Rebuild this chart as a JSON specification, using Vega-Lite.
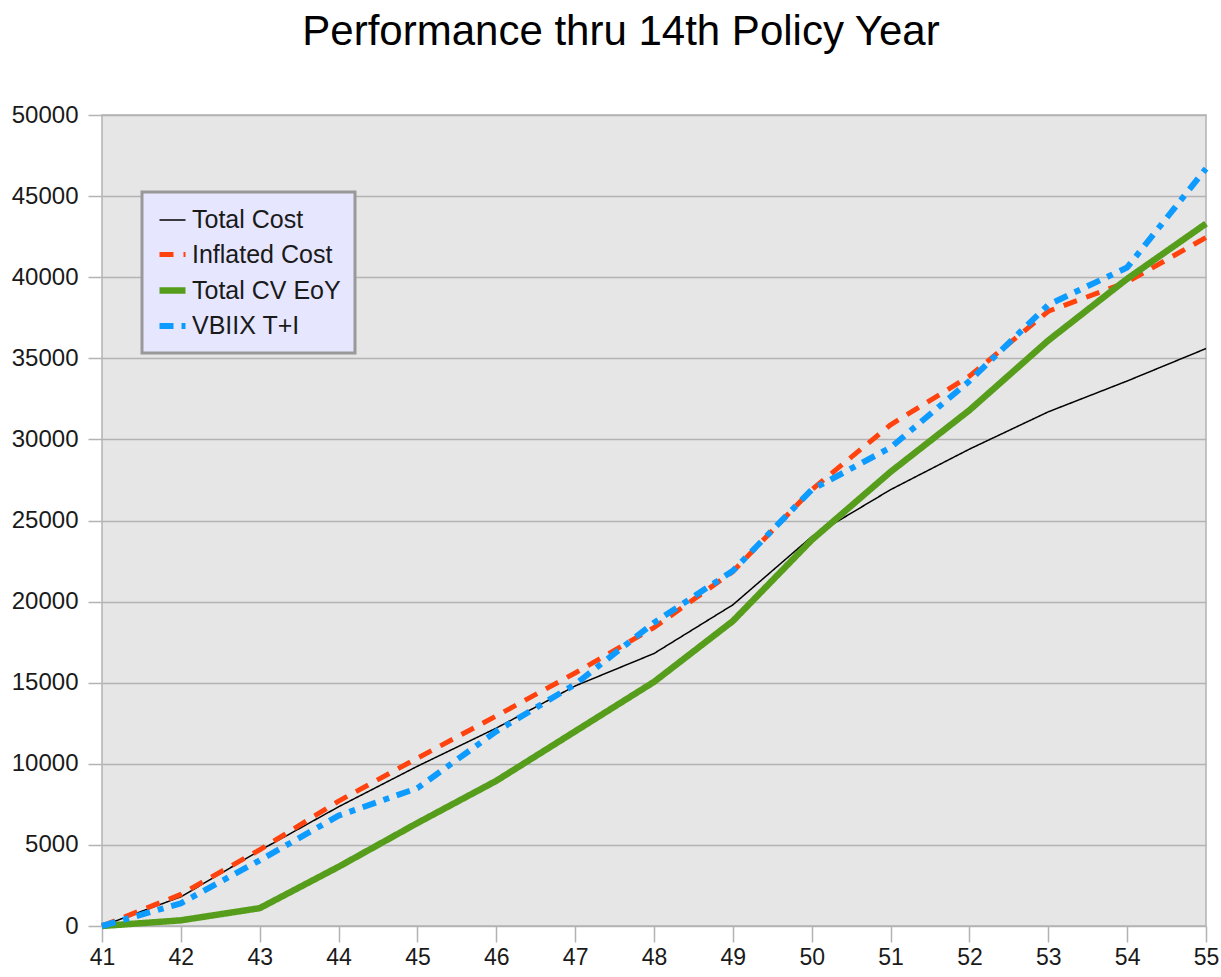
{
  "$schema": "https://vega.github.io/schema/vega-lite/v6.json",
  "autosize": {"type": "none"},
  "width": 1104,
  "height": 811,
  "padding": {"left": 102, "top": 115, "right": 15, "bottom": 51},
  "background": "#ffffff",
  "title": {
    "text": "Performance thru 14th Policy Year",
    "font": "Liberation Sans",
    "fontSize": 42,
    "fontWeight": "normal",
    "color": "#000000",
    "anchor": "middle",
    "dx": -33,
    "offset": 49
  },
  "data": {
    "values": [
      {"age": 41, "series": "Total Cost", "value": 0},
      {"age": 42, "series": "Total Cost", "value": 1800},
      {"age": 43, "series": "Total Cost", "value": 4650},
      {"age": 44, "series": "Total Cost", "value": 7350},
      {"age": 45, "series": "Total Cost", "value": 9850},
      {"age": 46, "series": "Total Cost", "value": 12200},
      {"age": 47, "series": "Total Cost", "value": 14800},
      {"age": 48, "series": "Total Cost", "value": 16800},
      {"age": 49, "series": "Total Cost", "value": 19800},
      {"age": 50, "series": "Total Cost", "value": 24000},
      {"age": 51, "series": "Total Cost", "value": 26900},
      {"age": 52, "series": "Total Cost", "value": 29400},
      {"age": 53, "series": "Total Cost", "value": 31700},
      {"age": 54, "series": "Total Cost", "value": 33600},
      {"age": 55, "series": "Total Cost", "value": 35600},
      {"age": 41, "series": "Inflated Cost", "value": 0},
      {"age": 42, "series": "Inflated Cost", "value": 1950},
      {"age": 43, "series": "Inflated Cost", "value": 4700},
      {"age": 44, "series": "Inflated Cost", "value": 7700},
      {"age": 45, "series": "Inflated Cost", "value": 10350},
      {"age": 46, "series": "Inflated Cost", "value": 12950},
      {"age": 47, "series": "Inflated Cost", "value": 15600},
      {"age": 48, "series": "Inflated Cost", "value": 18400},
      {"age": 49, "series": "Inflated Cost", "value": 21850},
      {"age": 50, "series": "Inflated Cost", "value": 26900},
      {"age": 51, "series": "Inflated Cost", "value": 30900},
      {"age": 52, "series": "Inflated Cost", "value": 33900},
      {"age": 53, "series": "Inflated Cost", "value": 37900},
      {"age": 54, "series": "Inflated Cost", "value": 39700},
      {"age": 55, "series": "Inflated Cost", "value": 42450},
      {"age": 41, "series": "Total CV EoY", "value": 0},
      {"age": 42, "series": "Total CV EoY", "value": 350},
      {"age": 43, "series": "Total CV EoY", "value": 1100},
      {"age": 44, "series": "Total CV EoY", "value": 3650},
      {"age": 45, "series": "Total CV EoY", "value": 6350},
      {"age": 46, "series": "Total CV EoY", "value": 8950},
      {"age": 47, "series": "Total CV EoY", "value": 12000},
      {"age": 48, "series": "Total CV EoY", "value": 15050},
      {"age": 49, "series": "Total CV EoY", "value": 18800},
      {"age": 50, "series": "Total CV EoY", "value": 23800},
      {"age": 51, "series": "Total CV EoY", "value": 28000},
      {"age": 52, "series": "Total CV EoY", "value": 31800},
      {"age": 53, "series": "Total CV EoY", "value": 36100},
      {"age": 54, "series": "Total CV EoY", "value": 39900},
      {"age": 55, "series": "Total CV EoY", "value": 43300},
      {"age": 41, "series": "VBIIX T+I", "value": 0},
      {"age": 42, "series": "VBIIX T+I", "value": 1400},
      {"age": 43, "series": "VBIIX T+I", "value": 4050},
      {"age": 44, "series": "VBIIX T+I", "value": 6800},
      {"age": 45, "series": "VBIIX T+I", "value": 8500},
      {"age": 46, "series": "VBIIX T+I", "value": 12000},
      {"age": 47, "series": "VBIIX T+I", "value": 14900},
      {"age": 48, "series": "VBIIX T+I", "value": 18700},
      {"age": 49, "series": "VBIIX T+I", "value": 21900},
      {"age": 50, "series": "VBIIX T+I", "value": 26900},
      {"age": 51, "series": "VBIIX T+I", "value": 29500},
      {"age": 52, "series": "VBIIX T+I", "value": 33600},
      {"age": 53, "series": "VBIIX T+I", "value": 38300},
      {"age": 54, "series": "VBIIX T+I", "value": 40600},
      {"age": 55, "series": "VBIIX T+I", "value": 46700}
    ]
  },
  "mark": {"type": "line", "interpolate": "linear", "strokeCap": "butt", "strokeJoin": "round"},
  "encoding": {
    "x": {
      "field": "age",
      "type": "quantitative",
      "title": null,
      "scale": {"domain": [41, 55], "nice": false, "zero": false},
      "axis": {
        "values": [41, 42, 43, 44, 45, 46, 47, 48, 49, 50, 51, 52, 53, 54, 55],
        "format": "d",
        "grid": false,
        "domain": false,
        "tickSize": 16,
        "tickColor": "#b3b3b3",
        "tickWidth": 1.5,
        "labelPadding": 4,
        "labelFontSize": 23,
        "labelFont": "Liberation Sans",
        "labelColor": "#1a1a1a",
        "labelFlush": false
      }
    },
    "y": {
      "field": "value",
      "type": "quantitative",
      "title": null,
      "scale": {"domain": [0, 50000], "nice": false},
      "axis": {
        "values": [0, 5000, 10000, 15000, 20000, 25000, 30000, 35000, 40000, 45000, 50000],
        "format": "d",
        "grid": true,
        "gridColor": "#b3b3b3",
        "gridWidth": 1.5,
        "domain": false,
        "tickSize": 14,
        "tickColor": "#b3b3b3",
        "tickWidth": 1.5,
        "labelPadding": 10,
        "labelFontSize": 24,
        "labelFont": "Liberation Sans",
        "labelColor": "#1a1a1a"
      }
    },
    "color": {
      "field": "series",
      "type": "nominal",
      "title": null,
      "scale": {
        "domain": ["Total Cost", "Inflated Cost", "Total CV EoY", "VBIIX T+I"],
        "range": ["#000000", "#ff420e", "#579d1c", "#0d9bff"]
      },
      "legend": {
        "encode": {"legend": {"update": {"strokeWidth": {"value": 3}}}}
      }
    },
    "strokeDash": {
      "field": "series",
      "type": "nominal",
      "title": null,
      "scale": {
        "domain": ["Total Cost", "Inflated Cost", "Total CV EoY", "VBIIX T+I"],
        "range": [[1, 0], [14, 10], [1, 0], [14, 8, 6, 8]]
      }
    },
    "strokeWidth": {
      "field": "series",
      "type": "nominal",
      "title": null,
      "scale": {
        "type": "ordinal",
        "domain": ["Total Cost", "Inflated Cost", "Total CV EoY", "VBIIX T+I"],
        "range": [1.5, 5, 6.5, 6]
      }
    }
  },
  "config": {
    "view": {"fill": "#e6e6e6", "stroke": "#b3b3b3", "strokeWidth": 1.5},
    "legend": {
      "orient": "none",
      "legendX": 40,
      "legendY": 77,
      "fillColor": "#e6e6ff",
      "strokeColor": "#999999",
      "padding": 14,
      "symbolType": "stroke",
      "symbolSize": 676,
      "labelFontSize": 25,
      "labelFont": "Liberation Sans",
      "labelColor": "#1a1a1a",
      "labelOffset": 3,
      "rowPadding": 6,
      "labelLimit": 400
    }
  }
}
